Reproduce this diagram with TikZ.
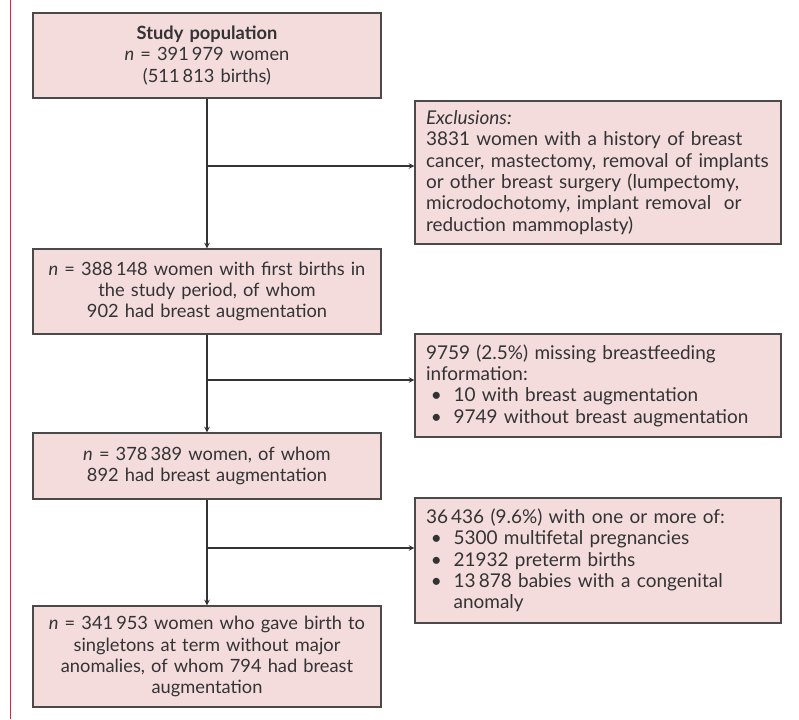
\documentclass[tikz,border=0pt]{standalone}
\usepackage{fontspec}
\setmainfont{Lato}
\usetikzlibrary{arrows,calc}
\definecolor{boxpink}{HTML}{F4DCDD}
\definecolor{boxline}{HTML}{4A4A4A}
\definecolor{textgrey}{HTML}{333333}
\definecolor{pagered}{HTML}{D7282F}
\newcommand{\bul}{\makebox[0.69cm][l]{\hspace{0.12cm}\textbullet}}
\newcommand{\nn}{\textit{n}}

\begin{document}
\begin{tikzpicture}
	\path [use as bounding box] (0,0) rectangle (19.975,-17.975);
	\tikzstyle{flowbox} = [draw=boxline, fill=boxpink, line width=0.9pt, text=textgrey, font=\fontsize{13}{15}\selectfont, inner sep=0pt]
	\tikzstyle{mainbox} = [flowbox, minimum width=8.7cm, text width=8.4cm, align=center]
	\tikzstyle{sidebox} = [flowbox, minimum width=9.15cm, text width=8.6cm, align=left, font=\fontsize{13.5}{15.2}\selectfont]
	\tikzstyle{flow} = [draw=textgrey, line width=0.8pt]
	% page margin rule
	\draw[pagered, line width=0.7pt] (0.25,0) -- (0.25,-17.975);
	% main column
	\node[mainbox, minimum height=2.125cm] (pop) at (5.175,-1.3875) {\textbf{Study population}\\ \nn{} = 391\,979 women\\ (511\,813 births)};
	\node[mainbox, minimum height=2.125cm] (first) at (5.175,-7.2875) {\nn{} = 388\,148 women with first births in\\ the study period, of whom\\ 902 had breast augmentation};
	\node[mainbox, minimum height=1.65cm] (fed) at (5.175,-11.65) {\nn{} = 378\,389 women, of whom\\ 892 had breast augmentation};
	\node[mainbox, minimum height=2.525cm] (final) at (5.175,-16.4125) {\nn{} = 341\,953 women who gave birth to\\ singletons at term without major\\ anomalies, of whom 794 had breast\\ augmentation};
	% exclusions
	\node[sidebox, minimum height=3.575cm] (excl) at (14.95,-4.3125) {\textit{Exclusions:}\\ 3831 women with a history of breast\\ cancer, mastectomy, removal of implants\\ or other breast surgery (lumpectomy,\\ microdochotomy, implant removal\ \ or\\ reduction mammoplasty)};
	\node[sidebox, minimum height=2.575cm] (miss) at (14.95,-9.6375) {9759 (2.5\%) missing breastfeeding\\ information:\\ \bul 10 with breast augmentation\\ \bul 9749 without breast augmentation};
	\node[sidebox, minimum height=3.125cm] (anom) at (14.95,-14.0125) {36\,436 (9.6\%) with one or more of:\\ \bul 5300 multifetal pregnancies\\ \bul 21932 preterm births\\ \bul\parbox[t]{7.9cm}{13\,878 babies with a congenital\\ anomaly}};
	% branch points
	\coordinate (b1) at (5.175,-4.15);
	\coordinate (b2) at (5.175,-9.5);
	\coordinate (b3) at (5.175,-13.7);
	\draw[flow, -stealth] (pop) -- (first);
	\draw[flow, -stealth] (first) -- (fed);
	\draw[flow, -stealth] (fed) -- (final);
	\draw[flow, -stealth] (b1) -- (b1 -| excl.west);
	\draw[flow, -stealth] (b2) -- (b2 -| miss.west);
	\draw[flow, -stealth] (b3) -- (b3 -| anom.west);
\end{tikzpicture}
\end{document}
